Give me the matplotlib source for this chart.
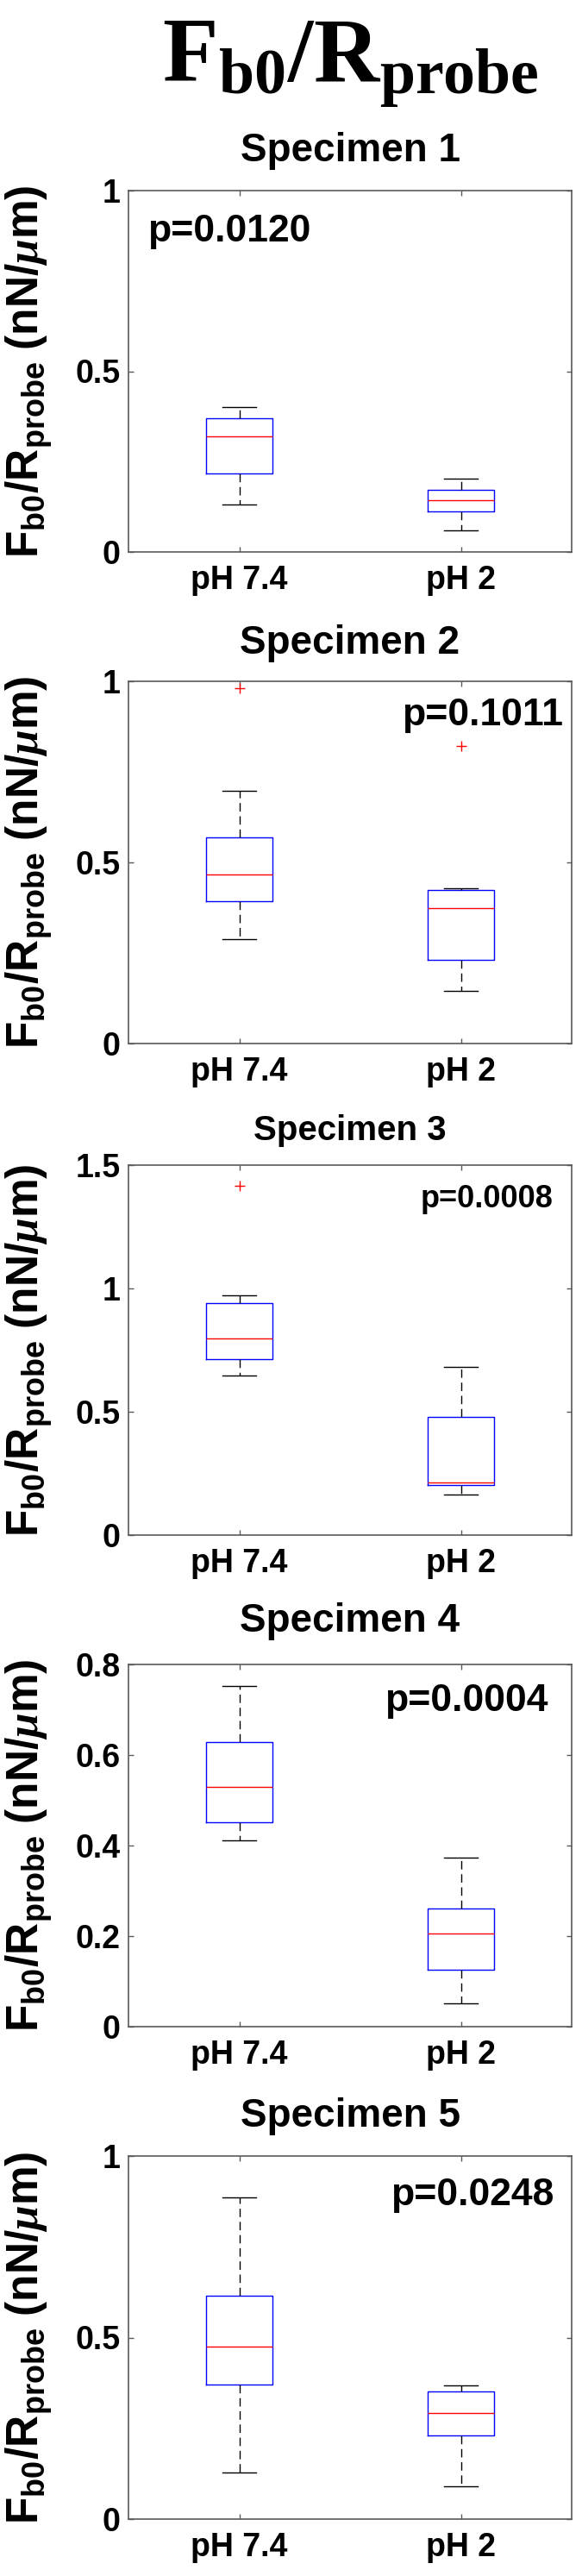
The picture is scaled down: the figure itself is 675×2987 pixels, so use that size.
import matplotlib
matplotlib.use("Agg")
import matplotlib.pyplot as plt

plt.rcParams['font.family'] = ['Liberation Sans', 'DejaVu Sans']
plt.rcParams['font.weight'] = 'bold'
plt.rcParams['mathtext.fontset'] = 'custom'
plt.rcParams['mathtext.rm'] = 'Liberation Sans:bold'
plt.rcParams['mathtext.it'] = 'Liberation Serif:italic'
plt.rcParams['mathtext.bf'] = 'Liberation Serif:bold'

# data (box plot stats per specimen)
groups = ['pH 7.4', 'pH 2']
specimens = ['Specimen 1', 'Specimen 2', 'Specimen 3', 'Specimen 4', 'Specimen 5']
p_labels = ['p=0.0120', 'p=0.1011', 'p=0.0008', 'p=0.0004', 'p=0.0248']
y_max = [1.0, 1.0, 1.5, 0.8, 1.0]
y_ticks = [[0, 0.5, 1], [0, 0.5, 1], [0, 0.5, 1, 1.5],
           [0, 0.2, 0.4, 0.6, 0.8], [0, 0.5, 1]]

ph74_low = [0.131, 0.288, 0.646, 0.412, 0.129]
ph74_q1 = [0.216, 0.392, 0.714, 0.452, 0.370]
ph74_med = [0.320, 0.466, 0.798, 0.530, 0.476]
ph74_q3 = [0.371, 0.568, 0.940, 0.629, 0.616]
ph74_high = [0.400, 0.698, 0.973, 0.752, 0.885]
ph74_out = [[], [0.982], [1.417], [], []]

ph2_low = [0.060, 0.145, 0.165, 0.052, 0.091]
ph2_q1 = [0.112, 0.230, 0.2045, 0.125, 0.230]
ph2_med = [0.144, 0.374, 0.2126, 0.206, 0.293]
ph2_q3 = [0.171, 0.423, 0.479, 0.2615, 0.351]
ph2_high = [0.204, 0.428, 0.683, 0.373, 0.3685]
ph2_out = [[], [0.822], [], [], []]

# layout in pixels of the 675 x 2987 figure
W, H = 675, 2987
left_px, right_px = 149, 663
panels_px = [(221, 640), (790, 1210), (1351, 1780), (1930, 2350), (2500, 2921)]
title_gap = [38, 36, 32, 42, 38]
title_size = [33, 33, 29, 33, 33]
p_pos = [(0.043, 0.886, 'left'), (0.980, 0.907, 'right'), (0.959, 0.909, 'right'),
         (0.946, 0.898, 'right'), (0.959, 0.893, 'right')]
p_size = [32, 32, 26, 32, 32]

frame = '#5a5a5a'
ylab = r'$\mathrm{F_{b0}/R_{probe}\ (nN/}\mu\mathrm{m)}$'

fig = plt.figure(figsize=(W / 100, H / 100), dpi=100)
fig.text(406 / W, 1 - 94 / H, r'$\mathbf{F_{b0}/R_{probe}}$', fontsize=76,
         ha='center', va='baseline')

for i in range(5):
    top, bot = panels_px[i]
    ax = fig.add_axes([left_px / W, 1 - bot / H, (right_px - left_px) / W, (bot - top) / H])

    stats = [
        dict(label=groups[0], whislo=ph74_low[i], q1=ph74_q1[i], med=ph74_med[i],
             q3=ph74_q3[i], whishi=ph74_high[i], fliers=ph74_out[i]),
        dict(label=groups[1], whislo=ph2_low[i], q1=ph2_q1[i], med=ph2_med[i],
             q3=ph2_q3[i], whishi=ph2_high[i], fliers=ph2_out[i]),
    ]
    ax.bxp(stats, positions=[1, 2], widths=0.3, showfliers=True,
           boxprops=dict(color='blue', lw=1),
           medianprops=dict(color='red', lw=1),
           whiskerprops=dict(color='black', lw=1, linestyle=(0, (7, 4))),
           capprops=dict(color='black', lw=1),
           flierprops=dict(marker='+', markeredgecolor='red', markersize=9, markeredgewidth=1))

    ax.set_xlim(0.5, 2.5)
    ax.set_ylim(0, y_max[i])
    ax.set_yticks(y_ticks[i])
    ax.set_yticklabels(['%g' % t for t in y_ticks[i]])
    ax.set_xticks([1, 2])
    ax.set_xticklabels(groups)
    ax.tick_params(direction='in', length=4, width=1, color=frame, labelsize=27,
                   top=True, right=True)
    ax.tick_params(axis='x', pad=11)
    ax.tick_params(axis='y', pad=7)
    for s in ax.spines.values():
        s.set_color(frame)
        s.set_linewidth(1.2)

    ax.set_title(specimens[i], fontsize=title_size[i], fontweight='bold',
                 y=1 + title_gap[i] / (bot - top), va='center')
    px, py, pha = p_pos[i]
    ax.text(px, py, p_labels[i], transform=ax.transAxes, fontsize=p_size[i],
            fontweight='bold', ha=pha, va='center')

    ax.set_ylabel(ylab, fontsize=37)
    ax.yaxis.set_label_coords((45 - left_px) / (right_px - left_px), 0.5)
    ax.yaxis.label.set_verticalalignment('baseline')

fig.savefig('out.png', dpi=100)
